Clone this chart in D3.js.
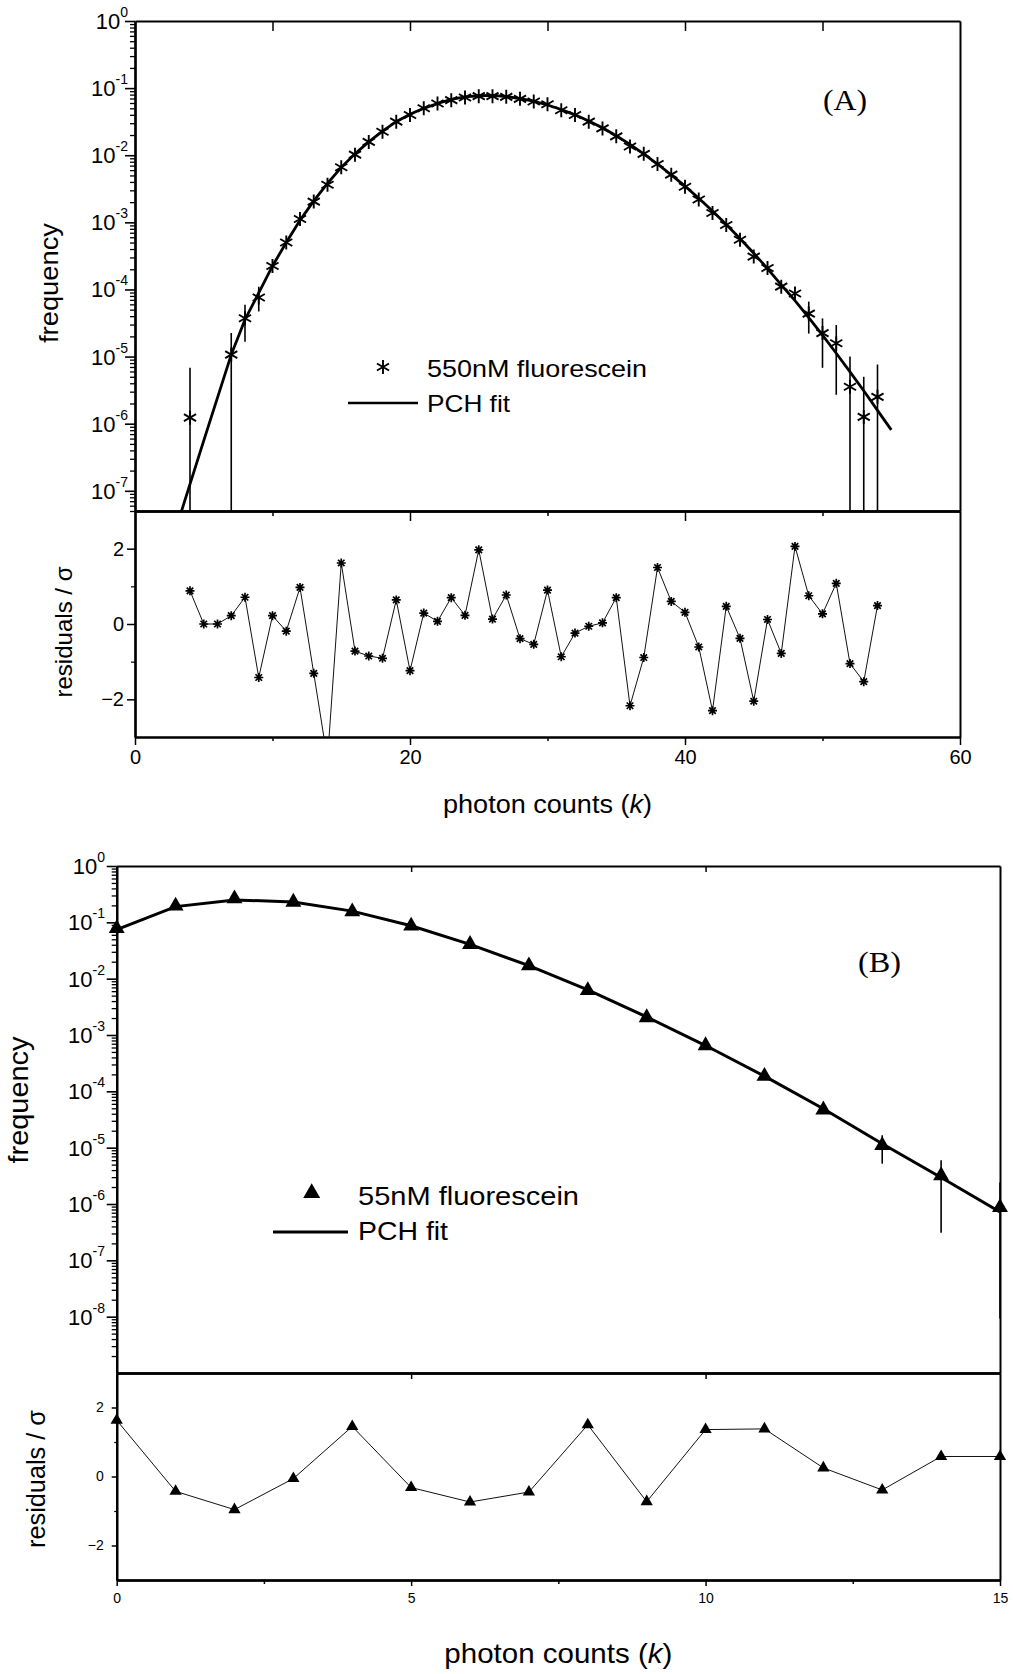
<!DOCTYPE html>
<html><head><meta charset="utf-8">
<script src="https://cdn.jsdelivr.net/npm/d3@7"></script>
<style>
body{margin:0;background:#fff}
svg{display:block}
</style>
</head><body>
<svg id="c" width="1013" height="1674"></svg>
<script>
// ---------------- Panel A data (550 nM fluorescein) ----------------
const kA = [4,7,8,9,10,11,12,13,14,15,16,17,18,19,20,21,22,23,24,25,26,27,28,29,30,31,32,33,34,35,36,37,38,39,40,41,42,43,44,45,46,47,48,49,50,51,52,53,54];
const freqA = [1.23e-6,1.07e-5,3.72e-5,7.59e-5,2.24e-4,5.01e-4,1.12e-3,2.04e-3,3.63e-3,6.61e-3,1.02e-2,1.58e-2,2.24e-2,3.16e-2,3.98e-2,5.01e-2,5.89e-2,6.61e-2,7.24e-2,7.59e-2,7.59e-2,7.41e-2,6.92e-2,6.31e-2,5.75e-2,4.68e-2,3.98e-2,3.16e-2,2.51e-2,1.91e-2,1.35e-2,1.05e-2,7.41e-3,5.13e-3,3.39e-3,2.19e-3,1.38e-3,9.12e-4,5.50e-4,3.09e-4,2.09e-4,1.10e-4,8.71e-5,4.37e-5,2.24e-5,1.58e-5,3.55e-6,1.26e-6,2.51e-6];
const fitKA = [3,4,5,6,7,8,9,10,11,12,13,14,15,16,17,18,19,20,21,22,23,24,25,26,27,28,29,30,31,32,33,34,35,36,37,38,39,40,41,42,43,44,45,46,47,48,49,50,51,52,53,54,55];
const fitA = [2.8e-8,1.26e-7,5.6e-7,2.45e-6,1.07e-5,3.55e-5,8.9e-5,2.24e-4,5.0e-4,1.07e-3,2.09e-3,3.8e-3,6.6e-3,1.05e-2,1.58e-2,2.29e-2,3.16e-2,4.07e-2,5.0e-2,5.9e-2,6.8e-2,7.4e-2,7.7e-2,7.8e-2,7.5e-2,7.0e-2,6.4e-2,5.6e-2,4.8e-2,4.0e-2,3.24e-2,2.57e-2,1.95e-2,1.45e-2,1.05e-2,7.4e-3,5.1e-3,3.47e-3,2.29e-3,1.48e-3,9.3e-4,5.75e-4,3.47e-4,2.04e-4,1.17e-4,6.8e-5,3.8e-5,2.09e-5,1.12e-5,5.9e-6,3.1e-6,1.58e-6,8.1e-7];
const errKA  = [4,7,8,9,49,50,51,52,53,54];
const errHiA = [6.8e-6,2.25e-5,5.9e-5,1.1e-4,6.6e-5,3.7e-5,2.95e-5,1.0e-5,5.0e-6,7.6e-6];
const errLoA = [1e-9,1e-9,1.66e-5,4.7e-5,2.2e-5,6.8e-6,2.7e-6,1e-9,1e-9,1e-9];
const residKA = [4,5,6,7,8,9,10,11,12,13,14,15,16,17,18,19,20,21,22,23,24,25,26,27,28,29,30,31,32,33,34,35,36,37,38,39,40,41,42,43,44,45,46,47,48,49,50,51,52,53,54];
const residA = [0.88,0.0,0.0,0.22,0.71,-1.42,0.22,-0.19,0.97,-1.31,-3.6,1.62,-0.72,-0.85,-0.91,0.64,-1.24,0.29,0.07,0.70,0.23,1.97,0.13,0.77,-0.39,-0.54,0.90,-0.87,-0.24,-0.06,0.03,0.70,-2.17,-0.89,1.50,0.60,0.31,-0.61,-2.30,0.47,-0.38,-2.05,0.12,-0.78,2.06,0.75,0.27,1.08,-1.05,-1.53,0.49];
const logExpA = [0,-1,-2,-3,-4,-5,-6,-7];
const xMajorA = [0,20,40,60];
const xMinorA = [10,30,50];

// ---------------- Panel B data (55 nM fluorescein) ----------------
const kB = [0,1,2,3,4,5,6,7,8,9,10,11,12,13,14,15];
const freqB = [0.078,0.195,0.263,0.229,0.155,0.086,0.0407,0.0170,6.2e-3,2.04e-3,6.5e-4,1.86e-4,4.7e-5,1.1e-5,3.2e-6,8.7e-7];
const fitB = [0.074,0.19,0.25,0.23,0.158,0.087,0.0407,0.017,6.3e-3,2.09e-3,6.5e-4,1.86e-4,4.9e-5,1.17e-5,2.95e-6,7.2e-7];
const errKB  = [13,14,15];
const errHiB = [1.66e-5,6.0e-6,2.4e-6];
const errLoB = [5.2e-6,3.1e-7,9.3e-9];
const residB = [1.63,-0.43,-0.96,-0.06,1.45,-0.32,-0.74,-0.45,1.50,-0.73,1.36,1.38,0.25,-0.39,0.58,0.58];
const logExpB = [0,-1,-2,-3,-4,-5,-6,-7,-8];
const xMajorB = [0,5,10,15];
const xMinorB = [2.5,7.5,12.5];
const residTicks = [-2,0,2];
const residMinor = [-1,1];

// ---------------- setup ----------------
const FONT = '"Liberation Sans", Arial, Helvetica, sans-serif';
const SERIF = '"Liberation Serif", "Times New Roman", serif';
const svg = d3.select("#c");
const defs = svg.append("defs");

const xA = d3.scaleLinear().domain([0,60]).range([135,960]);
const yA = d3.scaleLog().domain([5e-8,1]).range([511,21]);
const rA = d3.scaleLinear().domain([-3,3]).range([737,511]);
const xB = d3.scaleLinear().domain([0,15]).range([116.7,1000]);
const yB = d3.scaleLog().domain([1e-9,1]).range([1373,866]);
const rB = d3.scaleLinear().domain([-3,3]).range([1580,1373]);

function clip(id, x, y){
  const [x0,x1] = x.range(); const [y1,y0] = y.range();
  defs.append("clipPath").attr("id",id).append("rect")
    .attr("x",x0).attr("y",y0).attr("width",x1-x0).attr("height",y1-y0);
  return `url(#${id})`;
}
const cA = clip("cA", xA, yA), cRA = clip("cRA", xA, rA), cB = clip("cB", xB, yB), cRB = clip("cRB", xB, rB);

function minors(scale){
  const [lo,hi] = scale.domain(); const out=[];
  for(let e=Math.floor(Math.log10(lo)); e<Math.log10(hi); e++)
    for(let m=2;m<=9;m++){ const v=m*Math.pow(10,e); if(v>=lo*0.999 && v<=hi) out.push(v); }
  return out;
}
function style(g, dw, tw){
  g.select(".domain").attr("stroke","#000").attr("stroke-width",dw);
  g.selectAll(".tick line").attr("stroke","#000").attr("stroke-width",tw);
  g.selectAll(".tick text").attr("font-family",FONT).attr("fill","#000");
  return g;
}
function star(r, arms){
  const c = Math.cos(Math.PI/6)*r, s = Math.sin(Math.PI/6)*r;
  let p = `M0,${-r}L0,${r}M${-c},${-s}L${c},${s}M${-c},${s}L${c},${-s}`;
  if(arms===8){ const d=r*0.72; p = `M0,${-r}L0,${r}M${-r},0L${r},0M${-d},${-d}L${d},${d}M${-d},${d}L${d},${-d}`; }
  return p;
}

// ---------- generic axis drawer for a panel ----------
function drawPanel(o){
  const {x,y,r} = o;
  const xl = x.range()[0], xr = x.range()[1];
  const yTop = y.range()[1], yMid = y.range()[0], yBot = r.range()[0];
  style(svg.append("g").attr("transform",`translate(0,${yTop})`)
    .call(d3.axisBottom(x).tickValues(o.topTicks).tickSize(o.topTickLen).tickSizeOuter(0).tickFormat("")), 2, 1.5);
  style(svg.append("g").attr("transform",`translate(0,${yMid})`)
    .call(d3.axisBottom(x).tickValues(o.xMajor.filter(v=>v>x.domain()[0]&&v<x.domain()[1])).tickSize(o.midMajor).tickSizeOuter(0).tickFormat("")), 2.5, 1.5);
  style(svg.append("g").attr("transform",`translate(0,${yMid})`)
    .call(d3.axisBottom(x).tickValues(o.xMinor).tickSize(o.midMinor).tickSizeOuter(0).tickFormat("")), 2.5, 1.5);
  const gb = style(svg.append("g").attr("transform",`translate(0,${yBot})`)
    .call(d3.axisBottom(x).tickValues(o.xMajor).tickSize(o.botMajor).tickPadding(o.botPad).tickSizeOuter(0).tickFormat(d3.format("d"))), 2, 1.5);
  gb.selectAll(".tick text").attr("font-size", o.xFont);
  style(svg.append("g").attr("transform",`translate(0,${yBot})`)
    .call(d3.axisBottom(x).tickValues(o.xMinor).tickSize(o.botMinor).tickSizeOuter(0).tickFormat("")), 2, 1.5);
  style(svg.append("g").attr("transform",`translate(${xr},0)`)
    .call(d3.axisRight(y).tickValues([]).tickSizeOuter(0)), 2, 1);
  style(svg.append("g").attr("transform",`translate(${xr},0)`)
    .call(d3.axisRight(r).tickValues([]).tickSizeOuter(0)), 2, 1);
  const majors = o.logExp.map(e=>Math.pow(10,e));
  style(svg.append("g").attr("transform",`translate(${xl},0)`)
    .call(d3.axisLeft(y).tickValues(minors(y)).tickSize(5).tickSizeOuter(0).tickFormat("")), 2.2, 1.3);
  style(svg.append("g").attr("transform",`translate(${xl},0)`)
    .call(d3.axisLeft(y).tickValues(majors).tickSize(10).tickSizeOuter(0).tickFormat("")), 2.2, 1.6);
  const lab = svg.append("g").attr("font-family",FONT).attr("text-anchor","end");
  o.logExp.forEach(e=>{
    const t = lab.append("text").attr("x",o.logLabelEnd).attr("y",y(Math.pow(10,e))+8).attr("font-size",22);
    t.append("tspan").text("10");
    t.append("tspan").attr("font-size",14).attr("dy",-12).text(String(e));
  });
  const gr = style(svg.append("g").attr("transform",`translate(${xl},0)`)
    .call(d3.axisLeft(r).tickValues(residTicks).tickSize(o.rTick).tickPadding(o.rPad).tickSizeOuter(0).tickFormat(d3.format("d"))), 2.2, 1.5);
  gr.selectAll(".tick text").attr("font-size", o.rFont);
  style(svg.append("g").attr("transform",`translate(${xl},0)`)
    .call(d3.axisLeft(r).tickValues(residMinor).tickSize(o.rTick/2).tickSizeOuter(0).tickFormat("")), 2.2, 1.2);
}

drawPanel({x:xA,y:yA,r:rA,topTicks:[10,20,30,40,50],topTickLen:10,xMajor:xMajorA,xMinor:xMinorA,
  midMajor:10,midMinor:5,botMajor:8,botMinor:4,botPad:5,xFont:20,logExp:logExpA,logLabelEnd:128,
  rTick:8,rPad:3,rFont:20});
drawPanel({x:xB,y:yB,r:rB,topTicks:[5,10],topTickLen:6,xMajor:xMajorB,xMinor:[],
  midMajor:6,midMinor:4,botMajor:6,botMinor:4,botPad:7,xFont:14,logExp:logExpB,logLabelEnd:105,
  rTick:5,rPad:8,rFont:14});
style(svg.append("g").attr("transform",`translate(0,${rB.range()[0]})`)
  .call(d3.axisBottom(xB).tickValues(xMinorB).tickSize(4).tickSizeOuter(0).tickFormat("")), 2, 1.5);

// ---------------- Panel A marks ----------------
const gA = svg.append("g").attr("clip-path", cA);
gA.selectAll("line.err").data(errKA).join("line")
  .attr("x1",(d)=>xA(d)).attr("x2",(d)=>xA(d))
  .attr("y1",(d,i)=>yA(Math.max(errLoA[i],1e-12))).attr("y2",(d,i)=>yA(errHiA[i]))
  .attr("stroke","#000").attr("stroke-width",1.6);
gA.append("path").datum(fitKA.map((k,i)=>[k,fitA[i]]))
  .attr("d", d3.line().x(d=>xA(d[0])).y(d=>yA(d[1])))
  .attr("fill","none").attr("stroke","#000").attr("stroke-width",2.8);
gA.selectAll("path.pt").data(kA).join("path")
  .attr("transform",(d,i)=>`translate(${xA(d)},${yA(freqA[i])})`)
  .attr("d", star(7,6)).attr("stroke","#000").attr("stroke-width",1.9).attr("fill","none");

const gRA = svg.append("g").attr("clip-path", cRA);
gRA.append("path").datum(residKA.map((k,i)=>[k,residA[i]]))
  .attr("d", d3.line().x(d=>xA(d[0])).y(d=>rA(d[1])))
  .attr("fill","none").attr("stroke","#111").attr("stroke-width",1);
gRA.selectAll("path.pt").data(residKA).join("path")
  .attr("transform",(d,i)=>`translate(${xA(d)},${rA(residA[i])})`)
  .attr("d", star(4.5,8)).attr("stroke","#000").attr("stroke-width",1.7).attr("fill","none");

// ---------------- Panel B marks ----------------
const gB = svg.append("g").attr("clip-path", cB);
gB.selectAll("line.err").data(errKB).join("line")
  .attr("x1",d=>xB(d)).attr("x2",d=>xB(d))
  .attr("y1",(d,i)=>yB(errLoB[i])).attr("y2",(d,i)=>yB(errHiB[i]))
  .attr("stroke","#000").attr("stroke-width",1.6);
gB.append("path").datum(kB.map((k,i)=>[k,fitB[i]]))
  .attr("d", d3.line().x(d=>xB(d[0])).y(d=>yB(d[1])))
  .attr("fill","none").attr("stroke","#000").attr("stroke-width",3);
const tri = d3.symbol().type(d3.symbolTriangle);
svg.append("g").selectAll("path").data(kB).join("path")
  .attr("transform",(d,i)=>`translate(${xB(d)},${yB(freqB[i])})`)
  .attr("d", tri.size(110)()).attr("fill","#000");

const gRB = svg.append("g").attr("clip-path", cRB);
gRB.append("path").datum(kB.map((k,i)=>[k,residB[i]]))
  .attr("d", d3.line().x(d=>xB(d[0])).y(d=>rB(d[1])))
  .attr("fill","none").attr("stroke","#111").attr("stroke-width",1);
svg.append("g").selectAll("path").data(kB).join("path")
  .attr("transform",(d,i)=>`translate(${xB(d)},${rB(residB[i])})`)
  .attr("d", tri.size(65)()).attr("fill","#000");

// ---------------- text: axis titles, legends, panel letters ----------------
function vlabel(x, y, size, len, txt){
  svg.append("text").attr("transform",`translate(${x},${y}) rotate(-90)`)
    .attr("text-anchor","middle").attr("font-family",FONT).attr("font-size",size)
    .attr("textLength",len).attr("lengthAdjust","spacingAndGlyphs").text(txt);
}
function xlabel(cx, y, size, len){
  const t = svg.append("text").attr("x",cx).attr("y",y).attr("text-anchor","middle")
    .attr("font-family",FONT).attr("font-size",size).attr("textLength",len).attr("lengthAdjust","spacingAndGlyphs");
  t.append("tspan").text("photon counts (");
  t.append("tspan").attr("font-style","italic").text("k");
  t.append("tspan").text(")");
}
vlabel(58, 283, 26, 120, "frequency");
vlabel(72, 632, 24, 131, "residuals / σ");
xlabel((xA.range()[0]+xA.range()[1])/2, 813, 25, 209);
vlabel(28, 1100, 28, 127, "frequency");
vlabel(45, 1479, 25, 138, "residuals / σ");
xlabel((xB.range()[0]+xB.range()[1])/2, 1663, 28, 228);

function txt(x,y,size,len,s,fam){
  return svg.append("text").attr("x",x).attr("y",y).attr("font-family",fam||FONT).attr("font-size",size)
    .attr("textLength",len).attr("lengthAdjust","spacingAndGlyphs").text(s);
}
svg.append("path").attr("transform","translate(383,367)").attr("d",star(7,6))
  .attr("stroke","#000").attr("stroke-width",1.9).attr("fill","none");
txt(427, 376.5, 24, 220, "550nM fluorescein");
svg.append("line").attr("x1",348).attr("x2",418).attr("y1",403).attr("y2",403).attr("stroke","#000").attr("stroke-width",2.6);
txt(427, 411.5, 24, 83, "PCH fit");
txt(823, 110, 30, 44, "(A)", SERIF);

svg.append("path").attr("transform","translate(311.7,1193)").attr("d", tri.size(125)()).attr("fill","#000");
txt(358, 1205, 26, 221, "55nM fluorescein");
svg.append("line").attr("x1",273).attr("x2",348).attr("y1",1232).attr("y2",1232).attr("stroke","#000").attr("stroke-width",3);
txt(358, 1240, 26, 90, "PCH fit");
txt(858, 972, 30, 43, "(B)", SERIF);
</script>
</body></html>
